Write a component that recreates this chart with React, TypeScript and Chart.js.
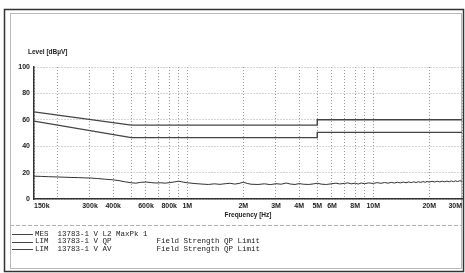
import React, { useEffect, useRef } from "react";
import { Chart, registerables } from "chart.js";

Chart.register(...registerables);

// Measurement trace (frequency in kHz, level in dBµV)
const mesFreqKHz = [
  150, 165, 180, 200, 220, 240, 260, 280, 300, 330,
  360, 400, 430, 460, 500, 530, 560, 600, 640, 680,
  720, 760, 800, 850, 900, 950, 1000, 1100, 1200, 1300,
  1400, 1500, 1600, 1700, 1800, 1900, 2000, 2100, 2200, 2400,
  2600, 2800, 3000, 3200, 3400, 3600, 3800, 4000, 4200, 4500,
  4800, 5000, 5300, 5600, 6000, 6300, 6600, 7000, 7300, 7600,
  8000, 8300, 8600, 9000, 9400, 10000, 10500, 11000, 11500, 12000,
  12500, 13000, 13500, 14000, 14500, 15000, 15500, 16000, 16500, 17000,
  17500, 18000, 18500, 19000, 19500, 20000, 20700, 21400, 22100, 22800,
  23500, 24200, 24900, 25600, 26300, 27000, 27700, 28400, 29100, 30000,
];
const mesLevel = [
  17.3, 17.1, 16.9, 16.7, 16.5, 16.3, 16.2, 16.0, 15.9, 15.5,
  15.0, 14.5, 13.9, 13.1, 12.3, 12.0, 12.6, 12.9, 12.4, 12.1,
  12.3, 12.0, 12.4, 12.9, 13.5, 12.8, 12.3, 11.7, 11.3, 11.0,
  11.5, 11.1, 11.6, 11.9, 11.3, 11.8, 12.7, 11.8, 11.2, 11.0,
  11.5, 10.9, 11.6, 11.2, 12.1, 11.3, 11.0, 11.7, 11.2, 11.0,
  11.5, 11.9, 11.2, 11.0, 11.6, 12.0, 11.4, 11.8, 12.2, 11.5,
  12.0, 11.3, 12.1, 11.6, 12.2, 11.8, 12.4, 11.9, 12.5, 12.0,
  12.6, 12.1, 12.7, 12.2, 12.8, 12.3, 12.9, 12.4, 13.0, 12.5,
  13.1, 12.6, 13.2, 12.7, 13.3, 12.8, 13.4, 12.9, 13.5, 12.9,
  13.5, 13.0, 13.6, 13.0, 13.7, 13.1, 13.7, 13.2, 13.8, 13.5,
];

// Limit lines
const qpFreqKHz = [150, 500, 5000, 5000, 30000];
const qpLevel = [66, 56, 56, 60, 60];
const avFreqKHz = [150, 500, 5000, 5000, 30000];
const avLevel = [59, 46.5, 46.5, 50.5, 50.5];

// Axis ticks
const gridFreqKHz = [
  150, 200, 300, 400, 500, 600, 700, 800, 900,
  1000, 2000, 3000, 4000, 5000, 6000, 7000, 8000, 9000,
  10000, 20000, 30000,
];
const labeledFreqKHz = [150, 300, 400, 600, 800, 1000, 2000, 3000, 4000, 5000, 6000, 8000, 10000, 20000, 30000];
const freqLabels = ["150k", "300k", "400k", "600k", "800k", "1M", "2M", "3M", "4M", "5M", "6M", "8M", "10M", "20M", "30M"];
const yTicks = [0, 20, 40, 60, 80, 100];

const yTitle = "Level [dBµV]";
const xTitle = "Frequency [Hz]";
const legendRows = [
  "MES  13783-1 V L2 MaxPk 1",
  "LIM  13783-1 V QP          Field Strength QP Limit",
  "LIM  13783-1 V AV          Field Strength QP Limit",
];

const tickFont = { family: "'Liberation Sans', Arial, sans-serif", size: 7, weight: "bold" as const };

const toPoints = (f: number[], v: number[]) => f.map((fk, i) => ({ x: fk * 1000, y: v[i] }));

const decorPlugin = {
  id: "decor",
  beforeDraw(chart: any) {
    const ctx = chart.ctx;
    ctx.save();
    ctx.fillStyle = "#ffffff";
    ctx.fillRect(0, 0, chart.width, chart.height);
    ctx.strokeStyle = "#333";
    ctx.lineWidth = 1.5;
    ctx.strokeRect(4.5, 9.5, 459, 262);
    ctx.strokeStyle = "#b8b8b8";
    ctx.lineWidth = 1;
    ctx.strokeRect(10.5, 13.5, 451, 255);
    ctx.setLineDash([4, 2]);
    ctx.strokeStyle = "#b0b0b0";
    ctx.beginPath();
    ctx.moveTo(10, 225.5);
    ctx.lineTo(461, 225.5);
    ctx.stroke();
    ctx.restore();
  },
  afterDraw(chart: any) {
    const ctx = chart.ctx;
    const area = chart.chartArea;
    ctx.save();
    ctx.fillStyle = "#222";
    ctx.font = "bold 6.5px 'Liberation Sans', Arial, sans-serif";
    ctx.textBaseline = "middle";
    ctx.textAlign = "left";
    ctx.fillText(yTitle, 28, 52);
    ctx.textAlign = "center";
    ctx.fillText(xTitle, (area.left + area.right) / 2, 215);
    ctx.textAlign = "left";
    ctx.font = "7.5px 'Liberation Mono', 'DejaVu Sans Mono', monospace";
    const rowY = [234, 241.5, 249];
    legendRows.forEach((row, i) => {
      ctx.strokeStyle = "#444";
      ctx.lineWidth = 1;
      ctx.beginPath();
      ctx.moveTo(12, Math.round(rowY[i]) + 0.5);
      ctx.lineTo(33, Math.round(rowY[i]) + 0.5);
      ctx.stroke();
      ctx.fillText(row, 35, rowY[i]);
    });
    ctx.restore();
  },
};

export default function App() {
  const canvasRef = useRef<HTMLCanvasElement | null>(null);

  useEffect(() => {
    const canvas = canvasRef.current;
    if (!canvas) return;
    const chart = new Chart(canvas, {
      type: "line",
      data: {
        datasets: [
          { label: "MES", data: toPoints(mesFreqKHz, mesLevel), borderColor: "#333", borderWidth: 1, pointRadius: 0, tension: 0 },
          { label: "QP", data: toPoints(qpFreqKHz, qpLevel), borderColor: "#444", borderWidth: 1.4, pointRadius: 0, tension: 0 },
          { label: "AV", data: toPoints(avFreqKHz, avLevel), borderColor: "#444", borderWidth: 1.4, pointRadius: 0, tension: 0 },
        ],
      },
      options: {
        responsive: false,
        animation: false,
        layout: { padding: { left: 0, right: 3, top: 67, bottom: 0 } },
        plugins: { legend: { display: false }, tooltip: { enabled: false }, title: { display: false } },
        scales: {
          x: {
            type: "logarithmic",
            min: 150000,
            max: 30000000,
            afterBuildTicks: (s: any) => {
              s.ticks = gridFreqKHz.map((f) => ({ value: f * 1000 }));
            },
            afterFit: (s: any) => {
              s.height = 74;
            },
            ticks: {
              autoSkip: false,
              maxRotation: 0,
              minRotation: 0,
              align: "inner",
              padding: 3,
              color: "#222",
              font: tickFont,
              callback: (v: any) => {
                const idx = labeledFreqKHz.indexOf(Math.round(Number(v) / 1000));
                return idx >= 0 ? freqLabels[idx] : "";
              },
            },
            grid: { drawTicks: false, color: "#999", lineWidth: 1 },
            border: { display: true, color: "#333", width: 1.5, dash: [1, 2] },
          },
          y: {
            min: 0,
            max: 100,
            afterBuildTicks: (s: any) => {
              s.ticks = yTicks.map((v) => ({ value: v }));
            },
            afterFit: (s: any) => {
              s.width = 34;
            },
            ticks: { padding: 4, color: "#222", font: tickFont },
            grid: { drawTicks: false, color: "#aaa", lineWidth: 1 },
            border: { display: true, color: "#333", width: 1.5, dash: [1, 2] },
          },
        },
      },
      plugins: [decorPlugin],
    } as any);
    return () => chart.destroy();
  }, []);

  return (
    <div style={{ position: "fixed", left: 0, top: 0, width: 465, height: 273, background: "#fff" }}>
      <canvas ref={canvasRef} width={465} height={273} style={{ display: "block" }} />
    </div>
  );
}
